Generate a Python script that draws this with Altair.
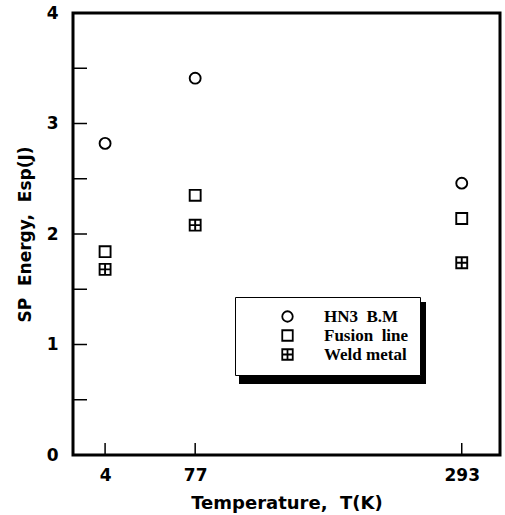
import altair as alt
import pandas as pd

temps = [4, 77, 293]
series_names = ["HN3\u00a0\u00a0B.M", "Fusion\u00a0\u00a0line", "Weld\u00a0metal"]
hn3_bm = [2.82, 3.41, 2.46]
fusion_line = [1.84, 2.35, 2.14]
weld_metal = [1.68, 2.08, 1.74]

y_ticks_major = [0, 1, 2, 3, 4]
y_ticks_all = [0, 0.5, 1, 1.5, 2, 2.5, 3, 3.5, 4]
x_ticks = [4, 77, 293]

rows = []
for name, vals in zip(series_names, [hn3_bm, fusion_line, weld_metal]):
    for t, v in zip(temps, vals):
        rows.append({"T": t, "E": v, "series": name})
df = pd.DataFrame(rows)

W, H = 427, 442
xscale = alt.Scale(domain=[-22, 324], nice=False, zero=False)
yscale = alt.Scale(domain=[0, 4], nice=False)

weld_shape = "M-1,-1H1V1H-1Z M0,-1V1 M-1,0H1"
FONT = "DejaVu Sans"

points = alt.Chart(df).mark_point(filled=False, color="black", strokeWidth=1.9, size=120, opacity=1).encode(
    x=alt.X("T:Q", scale=xscale,
            axis=alt.Axis(values=x_ticks, format="d", title="Temperature,\u00a0\u00a0T(K)", grid=False,
                          domain=False, ticks=False,
                          labelPadding=12, titlePadding=11, labelFont=FONT, labelFontWeight="bold",
                          labelFontSize=17, titleFont=FONT, titleFontSize=18, titleFontWeight="bold",
                          labelColor="black", titleColor="black")),
    y=alt.Y("E:Q", scale=yscale,
            axis=alt.Axis(values=y_ticks_major, format="d", title="SP\u00a0\u00a0Energy,\u00a0\u00a0Esp(J)",
                          grid=False, domain=False, ticks=False,
                          labelPadding=15, titlePadding=12, labelFont=FONT, labelFontWeight="bold",
                          labelFontSize=17, titleFont=FONT, titleFontSize=17, titleFontWeight="bold",
                          labelColor="black", titleColor="black")),
    shape=alt.Shape("series:N", scale=alt.Scale(domain=series_names, range=["circle", "square", weld_shape]),
                    legend=alt.Legend(title=None, orient="none", legendX=162, legendY=284, padding=11,
                                      symbolOffset=33, labelOffset=28, rowPadding=0,
                                      strokeColor="black", fillColor="white",
                                      labelFont="Liberation Serif", labelFontWeight="bold", labelFontSize=17,
                                      labelColor="black", symbolStrokeColor="black", symbolStrokeWidth=1.8,
                                      symbolFillColor="transparent", symbolSize=110)),
)

ytick_df = pd.DataFrame({"y": y_ticks_all})
yticks = alt.Chart(ytick_df).mark_rule(color="black", strokeWidth=1.5).encode(
    y=alt.Y("y:Q", scale=yscale), x=alt.value(0), x2=alt.value(14))
xtick_df = pd.DataFrame({"x": x_ticks})
xticks = alt.Chart(xtick_df).mark_rule(color="black", strokeWidth=1.5).encode(
    x=alt.X("x:Q", scale=xscale), y=alt.value(H), y2=alt.value(H - 12))

shadow = alt.Chart(pd.DataFrame({"a": [0]})).mark_rect(color="black").encode(
    x=alt.value(166), x2=alt.value(353), y=alt.value(289), y2=alt.value(371))

chart = alt.layer(yticks, xticks, shadow, points).properties(
    width=W, height=H,
    autosize=alt.AutoSizeParams(type="none"),
    padding={"left": 73, "top": 13, "right": 5, "bottom": 60},
    background="white",
).configure_view(stroke="black", strokeWidth=3)

chart.save("out.html", embed_options={"renderer": "svg", "actions": False})
